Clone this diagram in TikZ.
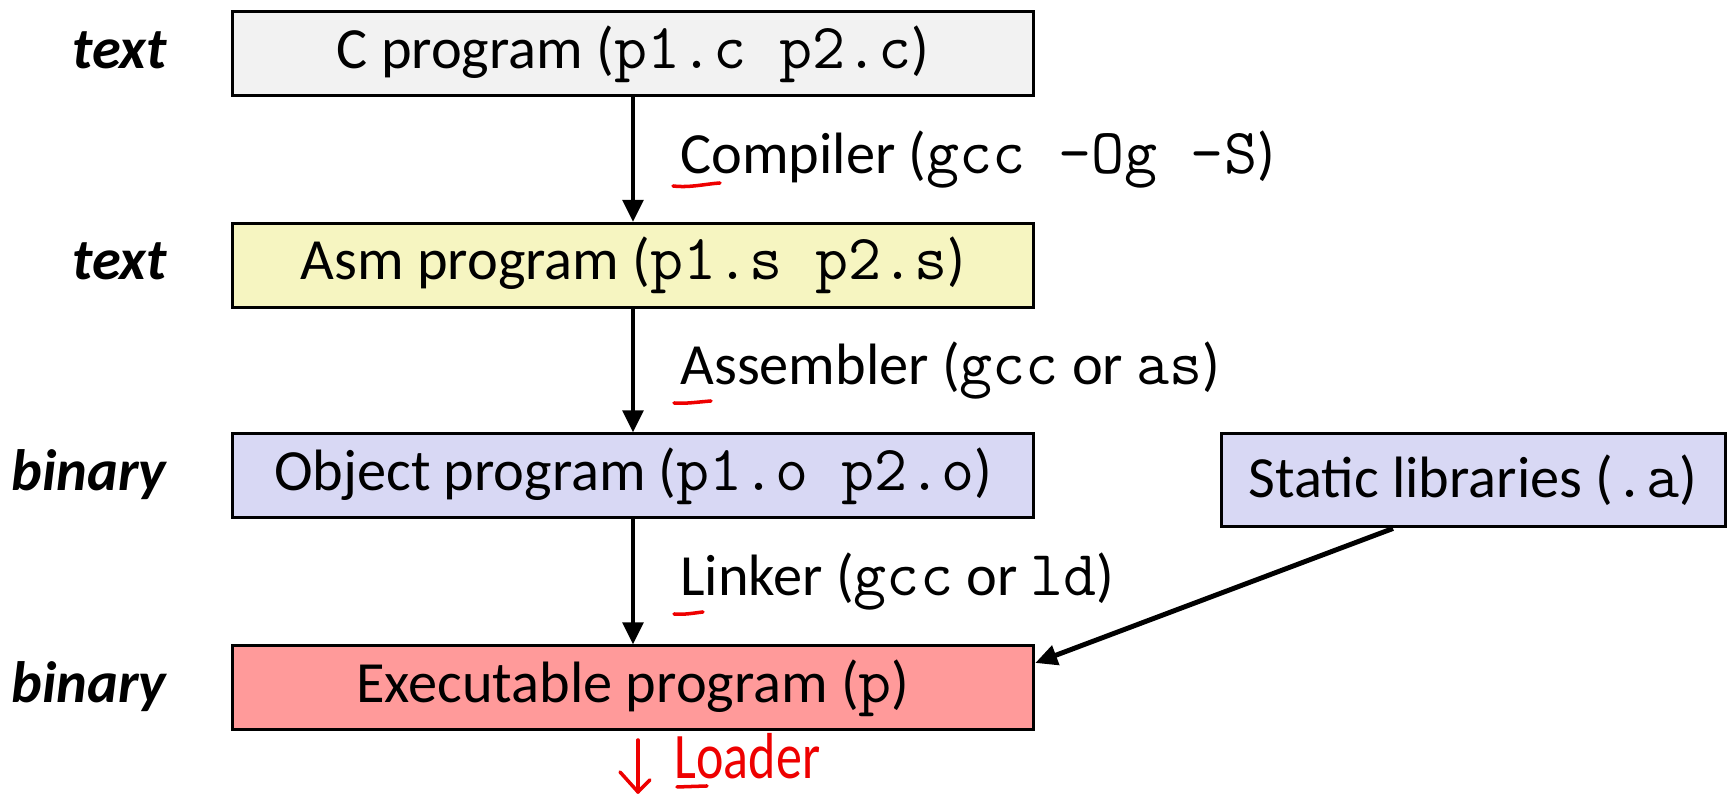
\documentclass[tikz,border=0pt]{standalone}
\usepackage{fontspec}
\setmainfont{Carlito}
\setmonofont{Latin Modern Mono}[Scale=1.1]
\newfontfamily\inkfont{Carlito}[FakeStretch=0.8]
\usetikzlibrary{arrows.meta}
\usetikzlibrary{calc}

\definecolor{srcGray}{HTML}{F2F2F2}
\definecolor{asmYellow}{HTML}{F6F5C1}
\definecolor{objBlue}{HTML}{D8D8F4}
\definecolor{exeRed}{HTML}{FF9A9A}
\definecolor{inkRed}{HTML}{EE0000}

\begin{document}
\begin{tikzpicture}[%%
  boxStyle/.style={draw,line width=0.85pt,minimum width=8.015cm,minimum height=0.84cm,inner sep=0pt,font=\fontsize{16.6}{20}\selectfont},%%
  kindStyle/.style={anchor=base east,inner sep=0pt,font=\fontsize{16.6}{20}\selectfont\bfseries\itshape},%%
  stepStyle/.style={anchor=west,inner sep=0pt,xshift=0.45cm,font=\fontsize{16.6}{20}\selectfont},%%
  arrowStyle/.style={-{Triangle[length=0.22cm,width=0.2cm]},line width=1.4pt},%%
  inkStyle/.style={draw=inkRed,line width=1pt,line cap=round,line join=round}%%
]
%%
\useasboundingbox (0,0) rectangle (17.28,7.98);
%%
\pgfmathsetmacro{\xmid}{6.33}
\pgfmathsetmacro{\xkind}{1.67}
%%
%% The four stages of the tool chain.
\node[boxStyle,fill=srcGray] (cProg) at (\xmid,7.44) {C program (\texttt{p1.c p2.c})};
\node[boxStyle,fill=asmYellow] (asmProg) at (\xmid,5.325) {Asm program (\texttt{p1.s p2.s})};
\node[boxStyle,fill=objBlue] (objProg) at (\xmid,3.22) {Object program (\texttt{p1.o p2.o})};
\node[boxStyle,fill=exeRed] (exeProg) at (\xmid,1.10) {Executable program (\texttt{p})};
\node[boxStyle,fill=objBlue,minimum width=5.04cm,minimum height=0.93cm] (staticLib) at (14.73,3.175) {Static libraries (\texttt{.a})};
%%
%% Kind of file on the left.
\node[kindStyle] (kindC) at (\xkind,0 |- cProg.base) {text};
\node[kindStyle] (kindAsm) at (\xkind,0 |- asmProg.base) {text};
\node[kindStyle] (kindObj) at (\xkind,0 |- objProg.base) {binary};
\node[kindStyle] (kindExe) at (\xkind,0 |- exeProg.base) {binary};
%%
%% The translation steps.
\draw[arrowStyle] (cProg) -- node[stepStyle] (compiler) {Compiler (\texttt{gcc –Og –S})} (asmProg);
\draw[arrowStyle] (asmProg) -- node[stepStyle] (assembler) {Assembler (\texttt{gcc} or \texttt{as})} (objProg);
\draw[arrowStyle] (objProg) -- node[stepStyle] (linker) {Linker (\texttt{gcc} or \texttt{ld})} (exeProg);
\draw[arrowStyle] ($(staticLib.south)+(-0.8,0)$) -- ($(exeProg.east)+(0,0.25)$);
%%
%% Red ink: underlined initials.
\draw[inkStyle] (6.73,6.12) .. controls (6.90,6.10) and (7.05,6.14) .. (7.20,6.15);
\draw[inkStyle] (6.74,3.95) .. controls (6.85,3.94) and (6.98,3.96) .. (7.11,3.97);
\draw[inkStyle] (6.74,1.84) .. controls (6.84,1.83) and (6.94,1.85) .. (7.03,1.86);
%%
%% Red ink: the loader.
\node[anchor=base west,inner sep=0pt,text depth=0pt,text=inkRed,font=\fontsize{18.5}{22}\inkfont] (loader) at (6.74,0.19) {Loader};
\draw[inkStyle] (6.77,0.11) -- (7.07,0.12);
\draw[inkStyle] (6.38,0.58) -- (6.38,0.06);
\draw[inkStyle] (6.20,0.26) -- (6.38,0.06) -- (6.50,0.18);
\end{tikzpicture}
\end{document}
